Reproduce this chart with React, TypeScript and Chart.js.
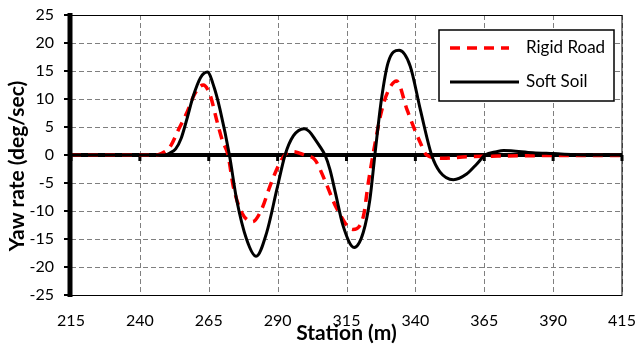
import React, { useEffect, useRef } from "react";
import { Chart, registerables } from "chart.js";

Chart.register(...registerables);

const xTicks = [215, 240, 265, 290, 315, 340, 365, 390, 415];
const yTicks = [-25, -20, -15, -10, -5, 0, 5, 10, 15, 20, 25];
const xTitle = "Station (m)";
const yTitle = "Yaw rate (deg/sec)";

const rigidStation = [215, 246, 248, 251, 254, 257, 260, 263, 265.5, 268, 270, 272, 273.9, 277, 280.9, 284.2, 287.2, 290.2, 292.6, 295.7, 299.6, 303.6, 307.2, 311.4, 317.3, 321.1, 322.9, 324.6, 327.7, 330.1, 333.2, 336.9, 339.2, 341.8, 344.1, 350.1, 358.6, 370, 390, 415];
const rigidYaw = [0, 0, 0.3, 1.5, 4.5, 7.5, 11, 12.5, 10.7, 6, 2.5, 0, -5.6, -10.3, -11.9, -9.7, -5.6, -2, 0, 0.6, 0, -0.9, -4.6, -9.5, -13.3, -11, -5, 0, 7.8, 11.4, 13.2, 8.2, 5.2, 2.2, 0, -0.6, -0.3, -0.2, -0.1, -0.1];

const softStation = [215, 249, 251, 253, 255, 257, 259.3, 262, 264.5, 267, 269.1, 272.5, 275.1, 278.7, 282.2, 286, 289.7, 292.7, 295.7, 299.6, 301.5, 303.6, 305.5, 307.2, 309, 311, 313.8, 317.8, 321.1, 323.5, 325.3, 327.7, 330.1, 334.1, 338.1, 341.8, 345.9, 348.9, 353.8, 358.6, 362.3, 365.3, 369.5, 372, 382.7, 390, 402, 415];
const softYaw = [0, 0, 0.4, 1.1, 3, 6.3, 10.4, 13.8, 14.8, 12, 8.1, 0, -7.9, -15, -18.1, -13.9, -6.2, 0, 3.4, 4.7, 4.2, 2.8, 1.4, 0, -2.6, -6.8, -12.7, -16.5, -13.8, -7.9, 0, 10, 16.5, 18.7, 15.9, 8.1, 0, -3, -4.4, -3.4, -1.6, 0, 0.6, 0.8, 0.4, 0.25, 0, 0];

const FONT = "Lato, 'Open Sans', sans-serif";

function drawGrid(chart: any) {
  const { ctx, chartArea, scales } = chart;
  ctx.save();
  ctx.strokeStyle = "#7f7f7f";
  ctx.lineWidth = 1;
  ctx.setLineDash([5, 3]);
  for (const t of xTicks) {
    const x = Math.round(scales.x.getPixelForValue(t)) + 0.5;
    ctx.beginPath();
    ctx.moveTo(x, chartArea.top);
    ctx.lineTo(x, chartArea.bottom);
    ctx.stroke();
  }
  for (const t of yTicks) {
    const y = Math.round(scales.y.getPixelForValue(t)) + 0.5;
    ctx.beginPath();
    ctx.moveTo(chartArea.left, y);
    ctx.lineTo(chartArea.right, y);
    ctx.stroke();
  }
  ctx.setLineDash([]);
  const y0 = scales.y.getPixelForValue(0);
  ctx.strokeStyle = "#000";
  ctx.lineWidth = 4;
  ctx.beginPath();
  ctx.moveTo(chartArea.left, y0);
  ctx.lineTo(chartArea.right, y0);
  ctx.stroke();
  ctx.lineWidth = 3;
  for (const t of xTicks) {
    const x = scales.x.getPixelForValue(t);
    ctx.beginPath();
    ctx.moveTo(x, y0);
    ctx.lineTo(x, y0 + 6);
    ctx.stroke();
  }
  ctx.restore();
}

const framePlugin = {
  id: "frame",
  beforeDatasetsDraw(chart: any) {
    drawGrid(chart);
  },
  afterDatasetsDraw(chart: any) {
    const { ctx, chartArea, scales } = chart;
    ctx.save();
    ctx.setLineDash([]);
    ctx.strokeStyle = "#000";
    ctx.lineWidth = 1;
    ctx.strokeRect(chartArea.left, chartArea.top + 0.5, chartArea.right - chartArea.left, chartArea.bottom - chartArea.top);
    ctx.lineWidth = 2;
    for (const t of yTicks) {
      const y = scales.y.getPixelForValue(t);
      ctx.beginPath();
      ctx.moveTo(chartArea.left - 7, y);
      ctx.lineTo(chartArea.left, y);
      ctx.stroke();
    }
    ctx.lineWidth = 5;
    ctx.beginPath();
    ctx.moveTo(chartArea.left - 1, chartArea.top - 2);
    ctx.lineTo(chartArea.left - 1, chartArea.bottom + 2);
    ctx.stroke();
    ctx.restore();
  },
  afterDraw(chart: any) {
    const { ctx } = chart;
    ctx.save();
    ctx.translate(17.5, 166);
    ctx.rotate(-Math.PI / 2);
    ctx.fillStyle = "#000";
    ctx.font = "bold 21px " + FONT;
    ctx.textAlign = "center";
    ctx.textBaseline = "middle";
    ctx.fillText(yTitle, 0, 0);
    ctx.restore();

    ctx.save();
    const bx = 439, by = 30, bw = 175, bh = 71;
    ctx.setLineDash([]);
    ctx.fillStyle = "#fff";
    ctx.fillRect(bx, by, bw, bh);
    ctx.strokeStyle = "#000";
    ctx.lineWidth = 1.5;
    ctx.strokeRect(bx, by, bw, bh);
    const ds = chart.data.datasets;
    const rows = [48, 82];
    ds.forEach((d: any, i: number) => {
      const y = rows[i];
      ctx.strokeStyle = d.borderColor;
      ctx.lineWidth = d.borderWidth;
      ctx.setLineDash(d.borderDash || []);
      ctx.beginPath();
      ctx.moveTo(450, y);
      ctx.lineTo(i === 0 ? 509 : 519, y);
      ctx.stroke();
      ctx.setLineDash([]);
      ctx.fillStyle = "#000";
      ctx.font = "17px " + FONT;
      ctx.textBaseline = "middle";
      ctx.textAlign = "left";
      ctx.fillText(d.label, 526, y);
    });
    ctx.restore();
  },
};

export default function App() {
  const ref = useRef<HTMLCanvasElement | null>(null);
  useEffect(() => {
    if (!ref.current) return;
    const chart = new Chart(ref.current, {
      type: "line",
      data: {
        datasets: [
          {
            label: "Rigid Road",
            data: rigidStation.map((s, i) => ({ x: s, y: rigidYaw[i] })),
            borderColor: "#ff0000",
            borderWidth: 3.5,
            borderDash: [10, 7],
            pointRadius: 0,
            cubicInterpolationMode: "monotone",
            fill: false,
            order: 1,
          },
          {
            label: "Soft Soil",
            data: softStation.map((s, i) => ({ x: s, y: softYaw[i] })),
            borderColor: "#000000",
            borderWidth: 3,
            pointRadius: 0,
            cubicInterpolationMode: "monotone",
            fill: false,
            order: 0,
          },
        ],
      },
      options: {
        animation: false,
        responsive: true,
        maintainAspectRatio: false,
        layout: { padding: { top: 15, right: 16, left: 0, bottom: 0 } },
        plugins: { legend: { display: false }, tooltip: { enabled: false } },
        scales: {
          x: {
            type: "linear",
            min: 215,
            max: 415,
            afterBuildTicks: (s: any) => {
              s.ticks = xTicks.map((v) => ({ value: v }));
            },
            afterFit: (s: any) => {
              s.height = 51;
            },
            ticks: {
              color: "#000",
              padding: 0,
              font: { family: FONT, size: 16 },
            },
            grid: {
              drawOnChartArea: false,
              drawTicks: true,
              tickLength: 16,
              tickColor: "rgba(0,0,0,0)",
              color: "rgba(0,0,0,0)",
            },
            border: { display: false },
            title: {
              display: true,
              text: xTitle,
              color: "#000",
              font: { family: FONT, size: 21, weight: "bold" },
              padding: { top: 0, bottom: 0 },
            },
          },
          y: {
            type: "linear",
            min: -25,
            max: 25,
            afterBuildTicks: (s: any) => {
              s.ticks = yTicks.map((v) => ({ value: v }));
            },
            afterFit: (s: any) => {
              s.width = 71;
            },
            ticks: {
              color: "#000",
              padding: 0,
              font: { family: FONT, size: 16 },
            },
            grid: {
              drawOnChartArea: false,
              drawTicks: true,
              tickLength: 17,
              tickColor: "rgba(0,0,0,0)",
              color: "rgba(0,0,0,0)",
            },
            border: { display: false },
            title: { display: false },
          },
        },
      },
      plugins: [framePlugin],
    } as any);
    return () => chart.destroy();
  }, []);
  return (
    <div style={{ position: "absolute", left: 0, top: 0, width: 638, height: 346, background: "#fff" }}>
      <canvas ref={ref} />
    </div>
  );
}
